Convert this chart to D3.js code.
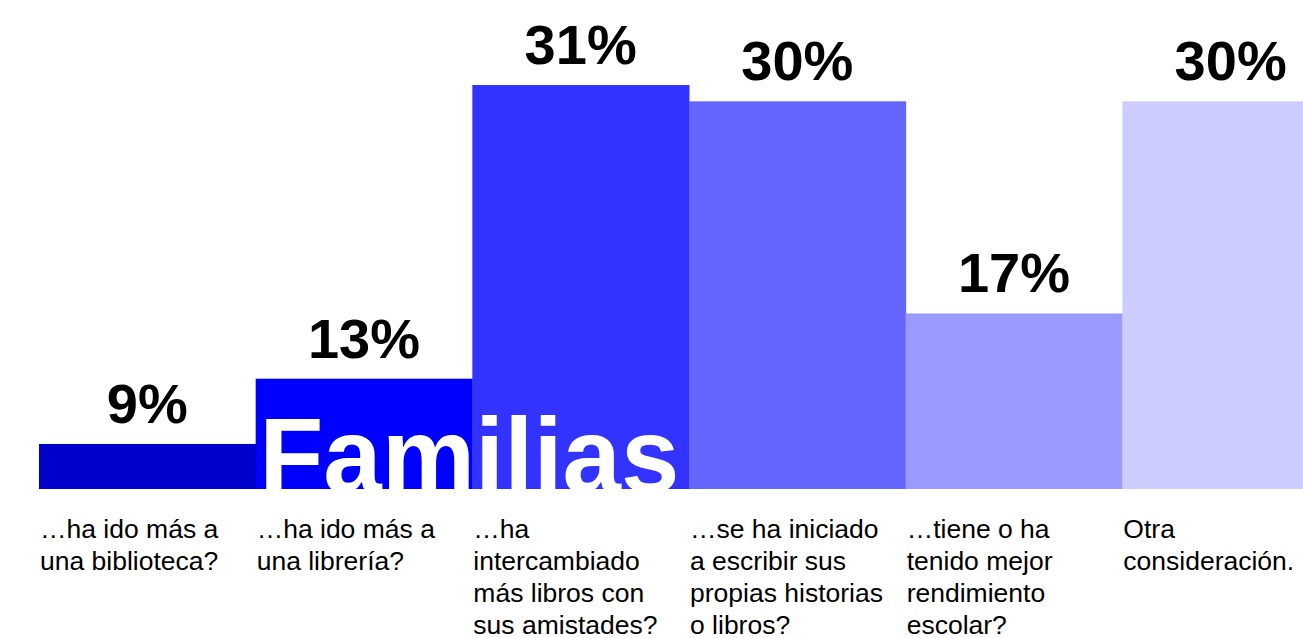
<!DOCTYPE html>
<html>
<head>
<meta charset="utf-8">
<script src="https://cdn.jsdelivr.net/npm/d3@7"></script>
<style>
  html, body { margin: 0; padding: 0; background: #fff; overflow: hidden; }
  svg { display: block; }
</style>
</head>
<body>
<script>
const categories = ["biblioteca", "libreria", "intercambio", "escribir", "rendimiento", "otra"];
const values = [9, 13, 31, 30, 17, 30];
const valueLabels = ["9%", "13%", "31%", "30%", "17%", "30%"];
const categoryLines = [
  ["…ha ido más a", "una biblioteca?"],
  ["…ha ido más a", "una librería?"],
  ["…ha", "intercambiado", "más libros con", "sus amistades?"],
  ["…se ha iniciado", "a escribir sus", "propias historias", "o libros?"],
  ["…tiene o ha", "tenido mejor", "rendimiento", "escolar?"],
  ["Otra", "consideración."]
];
const colors = ["#0000CC", "#0000FF", "#3333FF", "#6666FF", "#9999FF", "#CCCCFF"];
const title = "Familias";

const W = 1303, H = 638;
const svg = d3.select("body").append("svg").attr("width", W).attr("height", H);

const x = d3.scaleBand().domain(categories).range([39, 1339]).padding(0);
const y = d3.scaleLinear().domain([6.24, 31]).range([489, 85]);

const font = "'Liberation Sans', Arial, Helvetica, sans-serif";

svg.selectAll("rect.bar").data(categories).join("rect")
  .attr("class", "bar")
  .attr("x", d => x(d))
  .attr("width", x.bandwidth() + 0.5)
  .attr("y", (d, i) => y(values[i]))
  .attr("height", (d, i) => y.range()[0] - y(values[i]))
  .attr("fill", (d, i) => colors[i]);

svg.selectAll("text.val").data(categories).join("text")
  .attr("class", "val")
  .attr("x", d => x(d) + x.bandwidth() / 2)
  .attr("y", (d, i) => y(values[i]) - 21)
  .attr("text-anchor", "middle")
  .attr("font-family", font)
  .attr("font-weight", "bold")
  .attr("font-size", 56)
  .attr("fill", "#000")
  .text((d, i) => valueLabels[i]);

svg.append("clipPath").attr("id", "clipTop")
  .append("rect").attr("x", 0).attr("y", 0).attr("width", W).attr("height", y.range()[0]);

svg.append("text")
  .attr("clip-path", "url(#clipTop)")
  .attr("x", x(categories[1]) + 3.5)
  .attr("y", 492)
  .attr("font-family", font)
  .attr("font-weight", "bold")
  .attr("font-size", 105)
  .attr("fill", "#fff")
  .text(title);

const cat = svg.selectAll("text.cat").data(categories).join("text")
  .attr("class", "cat")
  .attr("font-family", font)
  .attr("font-size", 26.5)
  .attr("fill", "#000");

cat.each(function(d, i) {
  d3.select(this).selectAll("tspan").data(categoryLines[i]).join("tspan")
    .attr("x", x(d) + 1)
    .attr("y", (l, j) => 537.5 + j * 32)
    .text(l => l);
});
</script>
</body>
</html>
